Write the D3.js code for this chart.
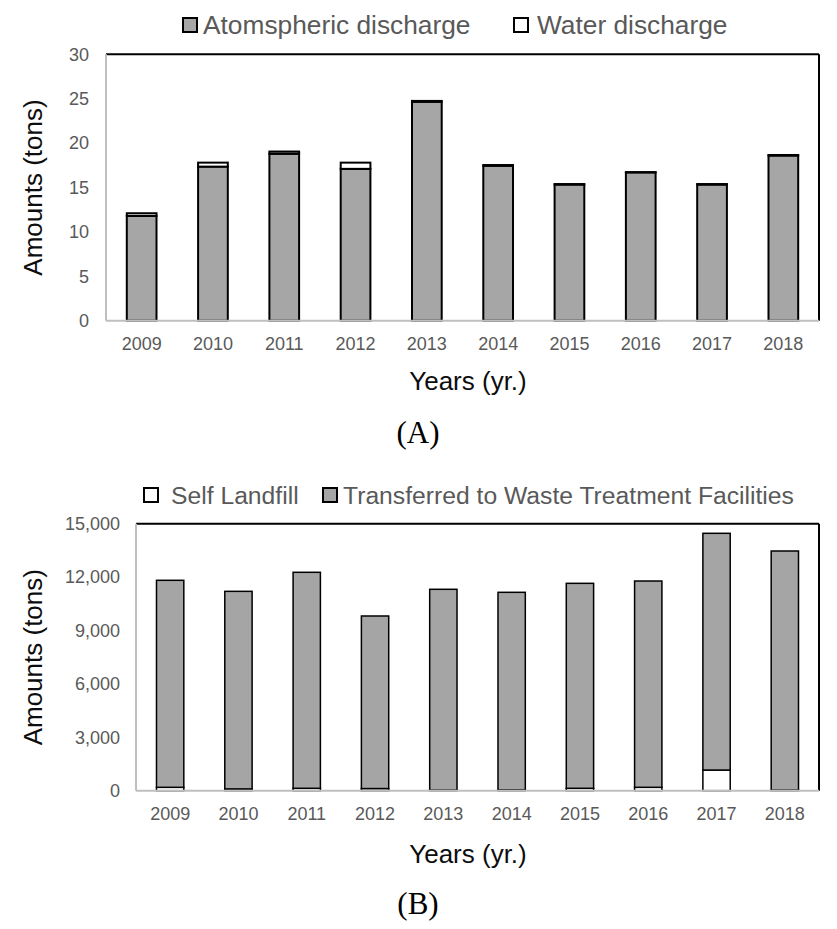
<!DOCTYPE html>
<html>
<head>
<meta charset="utf-8">
<title>Discharge and waste amounts</title>
<script src="https://d3js.org/d3.v7.min.js"></script>
<style>
  body { margin: 0; background: #fff; }
  svg { display: block; font-family: "Liberation Sans", Arial, sans-serif; }
  .tick-label { fill: #595959; font-size: 18px; }
  .legend-label { fill: #595959; }
  .axis-title { fill: #0d0d0d; font-size: 26px; }
  .panel-label { fill: #000; font-family: "Liberation Serif", "Times New Roman", serif; font-size: 31px; }
</style>
</head>
<body>
<svg id="chart" width="837" height="929"></svg>
<script>
// data
var years = ["2009", "2010", "2011", "2012", "2013", "2014", "2015", "2016", "2017", "2018"];

// panel A, tons
var atmospheric = [11.8, 17.35, 18.8, 17.1, 24.65, 17.45, 15.33, 16.7, 15.33, 18.6];
var water = [0.3, 0.45, 0.25, 0.7, 0.1, 0.08, 0.06, 0.03, 0.06, 0.06];
var ticksA = [0, 5, 10, 15, 20, 25, 30];

// panel B, tons
var selfLandfill = [190, 100, 135, 120, 30, 40, 135, 190, 1160, 30];
var transferred = [11630, 11100, 12135, 9695, 11285, 11105, 11515, 11590, 13300, 13436];
var ticksB = [0, 3000, 6000, 9000, 12000, 15000];

var svg = d3.select("#chart");

function drawPanel(opt) {
  var x = d3.scaleBand().domain(years).range([opt.left, opt.right]).padding(0);
  var y = d3.scaleLinear().domain([0, opt.max]).range([opt.bottom, opt.top]);
  var barW = x.bandwidth() / opt.gap;

  var rows = years.map(function(yr, i) {
    var r = { year: yr };
    opt.series.forEach(function(s) { r[s.key] = s.values[i]; });
    return r;
  });
  var stacked = d3.stack().keys(opt.series.map(function(s) { return s.key; }))(rows);

  var g = svg.append("g");

  // plot frame: light left/bottom, black top/right
  g.append("line").attr("x1", opt.left).attr("x2", opt.right).attr("y1", y(opt.max)).attr("y2", y(opt.max))
    .attr("stroke", "#000").attr("stroke-width", 2);
  g.append("line").attr("x1", opt.right).attr("x2", opt.right).attr("y1", y(opt.max)).attr("y2", y(0))
    .attr("stroke", "#000").attr("stroke-width", 2);
  g.append("line").attr("x1", opt.left).attr("x2", opt.left).attr("y1", y(opt.max)).attr("y2", y(0))
    .attr("stroke", "#bfbfbf").attr("stroke-width", 2);

  stacked.forEach(function(layer, li) {
    var s = opt.series[li];
    g.append("g").selectAll("rect")
      .data(layer)
      .enter().append("rect")
        .attr("x", function(d) { return x(d.data.year) + (x.bandwidth() - barW) / 2; })
        .attr("y", function(d) { return y(d[1]); })
        .attr("width", barW)
        .attr("height", function(d) { return Math.max(0, y(d[0]) - y(d[1])); })
        .attr("fill", s.fill)
        .attr("stroke", "#000")
        .attr("stroke-width", opt.barStroke);
  });

  g.append("line").attr("x1", opt.left).attr("x2", opt.right).attr("y1", y(0)).attr("y2", y(0))
    .attr("stroke", "#bfbfbf").attr("stroke-width", 2);

  // y tick labels
  g.append("g").selectAll("text")
    .data(opt.ticks)
    .enter().append("text")
      .attr("class", "tick-label")
      .attr("x", opt.left - opt.tickGap)
      .attr("y", function(d) { return y(d); })
      .attr("dy", "0.35em")
      .attr("text-anchor", "end")
      .text(opt.format);

  // x tick labels
  g.append("g").selectAll("text")
    .data(years)
    .enter().append("text")
      .attr("class", "tick-label")
      .attr("x", function(d) { return x(d) + x.bandwidth() / 2; })
      .attr("y", opt.bottom + 23)
      .attr("dy", "0.35em")
      .attr("text-anchor", "middle")
      .text(function(d) { return d; });

  // axis titles
  g.append("text")
    .attr("class", "axis-title")
    .attr("transform", "translate(33," + ((opt.top + opt.bottom) / 2) + ") rotate(-90)")
    .attr("dy", "0.35em")
    .attr("text-anchor", "middle")
    .text("Amounts (tons)");
  g.append("text")
    .attr("class", "axis-title")
    .attr("x", 468).attr("y", opt.xTitleY)
    .attr("dy", "0.35em")
    .attr("text-anchor", "middle")
    .text("Years (yr.)");
  g.append("text")
    .attr("class", "panel-label")
    .attr("x", 418).attr("y", opt.panelY)
    .attr("dy", "0.35em")
    .attr("text-anchor", "middle")
    .text(opt.panel);

  // legend
  var leg = g.append("g");
  opt.legend.forEach(function(item) {
    var s = opt.series.filter(function(d) { return d.key === item.key; })[0];
    leg.append("rect")
      .attr("x", item.x).attr("y", opt.legendY - 7)
      .attr("width", 14).attr("height", 14)
      .attr("fill", s.fill).attr("stroke", "#000").attr("stroke-width", 2);
    leg.append("text")
      .attr("class", "legend-label")
      .attr("x", item.textX).attr("y", opt.legendY)
      .attr("dy", "0.35em")
      .style("font-size", opt.legendSize + "px")
      .text(s.label);
  });
}

drawPanel({
  left: 106, right: 819, top: 54.3, bottom: 320.7, max: 30,
  gap: 2.4, barStroke: 2, tickGap: 17,
  ticks: ticksA, format: d3.format("d"),
  series: [
    { key: "atm", label: "Atomspheric discharge", values: atmospheric, fill: "#a6a6a6" },
    { key: "water", label: "Water discharge", values: water, fill: "#ffffff" }
  ],
  legendY: 25, legendSize: 26.3,
  legend: [ { key: "atm", x: 183, textX: 203 }, { key: "water", x: 514, textX: 537 } ],
  xTitleY: 381, panelY: 432, panel: "(A)"
});

drawPanel({
  left: 136, right: 819, top: 523.7, bottom: 790.7, max: 15000,
  gap: 2.5, barStroke: 1.5, tickGap: 16,
  ticks: ticksB, format: d3.format(","),
  series: [
    { key: "self", label: "Self Landfill", values: selfLandfill, fill: "#ffffff" },
    { key: "trans", label: "Transferred to Waste Treatment Facilities", values: transferred, fill: "#a5a5a5" }
  ],
  legendY: 495, legendSize: 24.7,
  legend: [ { key: "self", x: 144, textX: 171 }, { key: "trans", x: 323, textX: 343 } ],
  xTitleY: 854, panelY: 903, panel: "(B)"
});
</script>
</body>
</html>
